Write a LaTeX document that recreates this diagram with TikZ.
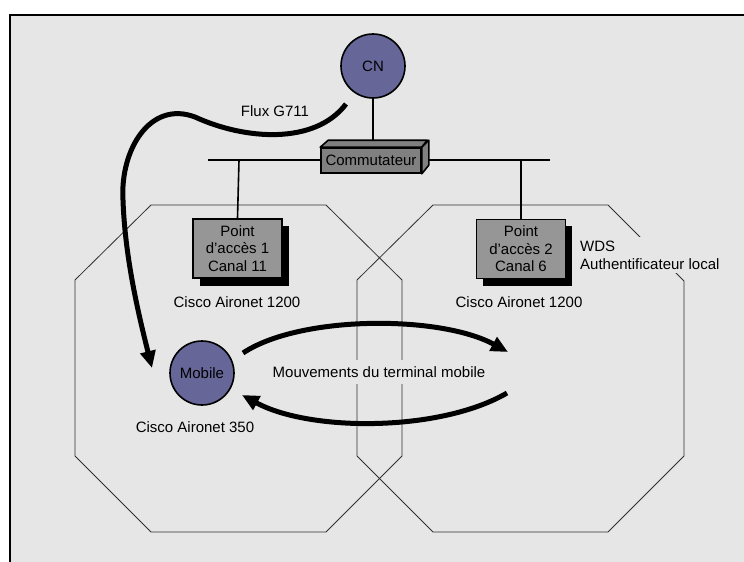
\documentclass[tikz,border=0pt]{standalone}
\usepackage{fontspec}
\setmainfont{Liberation Sans}
\usetikzlibrary{arrows.meta}
\definecolor{bgc}{HTML}{E6E6E6}
\definecolor{nodec}{HTML}{666699}
\definecolor{boxc}{HTML}{969696}
\definecolor{swc}{HTML}{808080}
\definecolor{cellc}{HTML}{303030}
\begin{document}
\begin{tikzpicture}[x=1pt,y=-1pt,
  every node/.style={font=\fontsize{15}{18}\selectfont},
  station/.style={circle,draw=black,line width=1.6pt,fill=nodec,minimum size=64pt,inner sep=0pt},
  apbox/.style={rectangle,draw=black,line width=1.6pt,fill=boxc,minimum width=89pt,minimum height=59pt,
    align=center,inner sep=0pt,font=\fontsize{15}{17.5}\selectfont},
  swbox/.style={rectangle,draw=black,line width=1.6pt,fill=swc,minimum width=100pt,minimum height=25pt,inner sep=0pt},
  cell/.style={draw=cellc,line width=0.8pt,line join=miter},
  wire/.style={draw=black,line width=1.6pt},
  flow/.style={draw=black,line width=5pt,-{Triangle[length=17pt,width=15pt]}},
  lbl/.style={inner sep=2pt},
  cover/.style={fill=bgc,inner xsep=3pt,inner ysep=6pt}
]
\useasboundingbox (0,0) rectangle (744,562);
\clip (0,0) rectangle (744,562);

% panel background and its frame
\fill[bgc] (10,15) rectangle (760,580);
\draw[line width=2pt] (10,580) -- (10,15) -- (760,15);

% radio cells of the two access points
\draw[cell] (151,205) -- (326,205) -- (402,280) -- (402,456) -- (326,532)
  -- (151,532) -- (75,456) -- (75,280) -- cycle;
\draw[cell] (433,205) -- (608,205) -- (684,281) -- (684,456) -- (608,532)
  -- (433,532) -- (357,456) -- (357,280) -- cycle;

% wired backbone
\coordinate (busL) at (208,160);
\coordinate (busR) at (550,160);
\coordinate (tap1) at (239,160);
\coordinate (tap2) at (521,160);
\draw[wire] (busL) -- (busR);

% access points with drop shadows
\fill[black] (200,226) rectangle (289,286);
\fill[black] (483,226) rectangle (572,286);
\node[apbox] (ap1) at (237.5,248.5) {Point\\d’accès 1\\Canal 11};
\node[apbox] (ap2) at (521,249) {Point\\d’accès 2\\Canal 6};
\draw[wire] (tap1) -- (ap1.north);
\draw[wire] (tap2) -- (ap2.north);

% WDS label, blanking the cell outline behind it
\node[cover,anchor=west,align=left,inner xsep=3pt,inner ysep=4pt,font=\fontsize{15}{18}\selectfont]
  (wds) at (577,255) {WDS\\Authentificateur local};

% switch drawn as a box with depth
\node[swbox] (sw) at (371,160.5) {};
\filldraw[fill=swc,draw=black,line width=1.6pt,line join=round]
  (sw.north west) -- ++(8,-7) -- ++(99,0) -- (sw.north east) -- cycle;
\filldraw[fill=swc,draw=black,line width=1.6pt,line join=round]
  (sw.north east) -- ++(7,-7) -- ++(0,25) -- (sw.south east) -- cycle;
\node at (sw.center) {Commutateur};

% correspondent node
\node[station] (cn) at (373,66) {CN};
\draw[wire] (cn.south) -- (cn.south |- 0,141);

% mobile terminal
\node[station] (mob) at (202,373) {Mobile};

% equipment labels
\node[lbl] (lap1) at (237,302) {Cisco Aironet 1200};
\node[lbl] (lap2) at (519,302) {Cisco Aironet 1200};
\node[lbl] (lmob) at (195,427) {Cisco Aironet 350};
\node[lbl] (lflux) at (275,111) {Flux G711};
\node[cover] (lmove) at (379,372) {Mouvements du terminal mobile};

% voice stream from CN to the mobile
\coordinate (fluxA) at (346,104);
\coordinate (fluxB) at (195,117);
\coordinate (fluxC) at (123,200);
\coordinate (fluxD) at (152,368);
\draw[flow] (fluxA) .. controls (315,145) and (245,140) .. (fluxB)
  .. controls (150,100) and (120,150) .. (fluxC)
  .. controls (125,260) and (140,320) .. (fluxD);

% movements of the mobile between the two cells
\coordinate (goA) at (243,353);
\coordinate (goB) at (508,352);
\coordinate (backA) at (507,393);
\coordinate (backB) at (242,395);
\draw[flow] (goA) .. controls (300,315) and (440,315) .. (goB);
\draw[flow] (backA) .. controls (440,432) and (310,432) .. (backB);
\end{tikzpicture}
\end{document}
